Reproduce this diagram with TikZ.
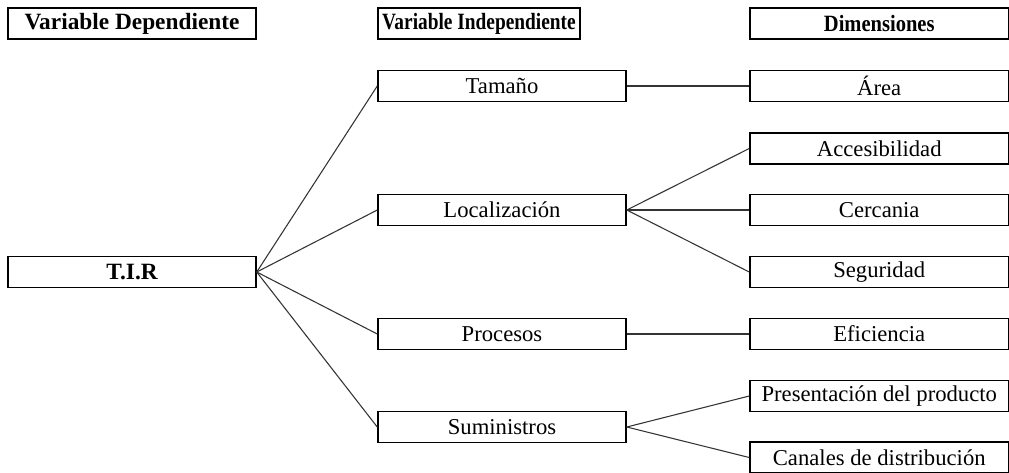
\documentclass[tikz,border=0pt]{standalone}
\usepackage{fontspec}
\setmainfont{Liberation Serif}
\usetikzlibrary{positioning}
\tikzset{
  head/.style={draw, line width=1.1pt, inner sep=0pt, minimum height=23.25pt, font=\fontsize{17.5}{20}\selectfont\bfseries},
  box/.style={draw, line width=1.1pt, inner sep=0pt, minimum height=23.25pt, minimum width=186pt, font=\fontsize{17}{20}\selectfont},
  dimbox/.style={box, minimum width=193.9pt},
  link/.style={line width=0.8pt, draw=black!80}
}

\begin{document}
\begin{tikzpicture}[x=0.75pt, y=-0.75pt]
\useasboundingbox (0,0) rectangle (1009,472);
% encabezados
\node[head, minimum width=186pt] (vdep) at (132,23.5) {Variable Dependiente};
\node[head, minimum width=151.5pt] (vind) at (479,23.5) {\scalebox{0.83}[1]{Variable Independiente}};
\node[head, minimum width=193.9pt] (dims) at (879.25,23.5) {\scalebox{0.88}[1]{Dimensiones}};
% variables
\node[box, font=\fontsize{17.5}{20}\selectfont\bfseries] (tir) at (132,272) {T.I.R};
\node[box] (tam) at (502,86) {Tamaño};
\node[box] (loc) at (502,210) {Localización};
\node[box] (pro) at (502,334) {Procesos};
\node[box] (sum) at (502,427) {Suministros};
% dimensiones
\node[dimbox] (area) at (879.25,86) {Área};
\node[dimbox] (acc) at (879.25,148.5) {Accesibilidad};
\node[dimbox] (cer) at (879.25,210) {Cercania};
\node[dimbox] (seg) at (879.25,272) {Seguridad};
\node[dimbox] (efi) at (879.25,334) {Eficiencia};
\node[dimbox] (pres) at (879.25,396) {Presentación del producto};
\node[dimbox] (can) at (879.25,457.5) {Canales de distribución};
\draw[link] (tir.east) -- (tam.west);
\draw[link] (tir.east) -- (loc.west);
\draw[link] (tir.east) -- (pro.west);
\draw[link] (tir.east) -- (sum.west);
\draw[link] (tam.east) -- (area.west);
\draw[link] (loc.east) -- (acc.west);
\draw[link] (loc.east) -- (cer.west);
\draw[link] (loc.east) -- (seg.west);
\draw[link] (pro.east) -- (efi.west);
\draw[link] (sum.east) -- (pres.west);
\draw[link] (sum.east) -- (can.west);
\end{tikzpicture}
\end{document}
